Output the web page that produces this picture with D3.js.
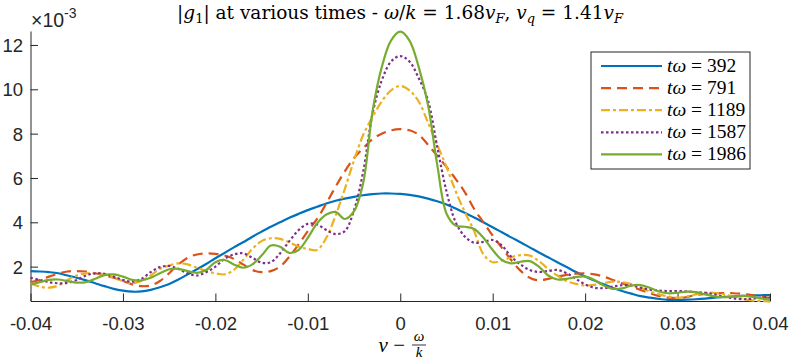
<!DOCTYPE html>
<html>
<head>
<meta charset="utf-8">
<script src="https://cdn.jsdelivr.net/npm/d3@7"></script>
<style>
    body { margin: 0; background: #fff; }
    svg { display: block; }
    .axis path, .axis line { stroke: #262626; stroke-width: 1px; }
    .axis text { font-family: "Liberation Sans", Arial, sans-serif; font-size: 18.5px; fill: #262626; }
    .tex { font-family: "Liberation Serif", "Times New Roman", serif; fill: #000; }
    .title { font-family: "DejaVu Serif", serif; fill: #000; }
</style>
</head>
<body>
<div id="chart"></div>
<script>
// v - omega/k, in units of 1e-3
const vGrid = [
    -40, -39, -38, -37, -36, -35, -34, -33, -32, -31,
    -30, -29, -28, -27, -26, -25, -24, -23, -22, -21,
    -20, -19, -18, -17, -16, -15, -14, -13, -12, -11,
    -10, -9, -8, -7, -6, -5, -4, -3, -2, -1,
    0,
    1, 2, 3, 4, 5, 6, 7, 8, 9, 10,
    11, 12, 13, 14, 15, 16, 17, 18, 19, 20,
    21, 22, 23, 24, 25, 26, 27, 28, 29, 30,
    31, 32, 33, 34, 35, 36, 37, 38, 39, 40
];

// |g1| in units of 1e-3
const g392 = [
    1.8, 1.78, 1.75, 1.7, 1.6, 1.5, 1.38, 1.25, 1.12, 1.0,
    0.92, 0.87, 0.88, 0.95, 1.07, 1.22, 1.42, 1.65, 1.88, 2.12,
    2.38, 2.62, 2.87, 3.1, 3.35, 3.58, 3.8, 4.0, 4.2, 4.38,
    4.55, 4.7, 4.85, 4.97, 5.07, 5.15, 5.22, 5.27, 5.3, 5.3,
    5.28,
    5.24, 5.17, 5.07, 4.95, 4.8, 4.62, 4.42, 4.22, 4.0, 3.78,
    3.55, 3.32, 3.1, 2.87, 2.64, 2.42, 2.2, 1.98, 1.76, 1.55,
    1.37, 1.2, 1.04, 0.9, 0.78, 0.67, 0.6, 0.54, 0.5, 0.5,
    0.51, 0.53, 0.56, 0.6, 0.63, 0.66, 0.68, 0.7, 0.71, 0.72
];

const g791 = [
    1.3, 1.4, 1.55, 1.68, 1.78, 1.8, 1.78, 1.7, 1.6, 1.5,
    1.35, 1.2, 1.12, 1.15, 1.35, 1.7, 2.1, 2.4, 2.55, 2.6,
    2.58, 2.5, 2.35, 2.1, 1.85, 1.75, 1.8, 2.0, 2.45, 3.0,
    3.6, 4.15, 4.85, 5.6, 6.3, 6.9, 7.35, 7.75, 8.0, 8.15,
    8.2,
    8.15, 7.95, 7.5, 7.0, 6.5, 5.95, 5.35, 4.6, 4.0, 3.4,
    2.85, 2.3, 1.82, 1.5, 1.38, 1.45, 1.55, 1.63, 1.68, 1.7,
    1.65, 1.55, 1.4, 1.25, 1.1, 0.95, 0.8, 0.67, 0.6, 0.58,
    0.63, 0.72, 0.77, 0.8, 0.81, 0.8, 0.77, 0.72, 0.65, 0.58
];

const g1189 = [
    1.25, 1.1, 1.05, 1.15, 1.4, 1.6, 1.7, 1.7, 1.65, 1.5,
    1.35, 1.25, 1.35, 1.6, 1.9, 2.05, 2.15, 2.1, 1.95, 1.8,
    1.7, 1.65, 1.85, 2.3, 2.8, 3.15, 3.28, 3.25, 3.1, 2.9,
    2.8, 2.75, 3.3, 4.3, 5.5, 6.8, 7.95, 8.75, 9.45, 9.95,
    10.15,
    9.95, 9.45, 8.5, 7.5, 6.5, 5.4, 4.45, 3.6, 2.55, 2.2,
    2.28, 2.42, 2.52, 2.5, 2.25, 1.9, 1.6, 1.35, 1.22, 1.15,
    1.18, 1.25, 1.32, 1.3, 1.22, 1.05, 0.88, 0.75, 0.65, 0.6,
    0.65, 0.75, 0.82, 0.82, 0.75, 0.65, 0.55, 0.48, 0.45, 0.42
];

const g1587 = [
    1.5, 1.4, 1.3, 1.25, 1.27, 1.4, 1.6, 1.7, 1.68, 1.55,
    1.4, 1.32, 1.45, 1.75, 1.98, 2.03, 1.9, 1.7, 1.6, 1.75,
    2.0, 2.35, 2.55, 2.6, 2.4, 2.18, 2.2, 2.6, 3.15, 3.65,
    3.93, 3.9, 3.65, 3.47, 3.6, 4.55, 6.3, 8.9, 10.4, 11.25,
    11.5,
    11.25, 10.5, 9.5, 7.4, 5.4, 4.0, 3.35, 3.08, 3.12, 3.2,
    2.95, 2.45, 2.1, 1.85, 1.76, 1.8, 1.85, 1.7, 1.45, 1.2,
    1.05, 1.03, 1.1, 1.16, 1.15, 1.05, 0.96, 0.92, 0.9, 0.9,
    0.88, 0.85, 0.82, 0.75, 0.65, 0.57, 0.53, 0.55, 0.6, 0.62
];

const g1986 = [
    1.18, 1.3, 1.4, 1.42, 1.35, 1.28, 1.3, 1.45, 1.62, 1.65,
    1.55, 1.4, 1.38, 1.5, 1.7, 1.88, 1.9, 1.8, 1.72, 1.85,
    2.2, 2.3, 2.1, 1.95, 2.1, 2.5, 2.95, 2.9, 2.62, 2.75,
    3.3, 3.95, 4.35, 4.47, 4.15, 4.5, 5.8, 9.0, 11.0, 12.2,
    12.6,
    12.2, 11.0, 9.3, 6.6, 4.4, 3.85, 3.8, 3.7, 3.3, 2.75,
    2.3, 2.15, 2.22, 2.25, 2.0, 1.6, 1.42, 1.45, 1.53, 1.55,
    1.4, 1.15, 1.0, 1.02, 1.15, 1.17, 1.05, 0.88, 0.8, 0.82,
    0.87, 0.85, 0.75, 0.66, 0.62, 0.65, 0.68, 0.65, 0.57, 0.5
];

const seriesTimes = ['392', '791', '1189', '1587', '1986'];
const seriesValues = [g392, g791, g1189, g1587, g1986];
const seriesColors = ['#0072BD', '#D95319', '#EDB120', '#7E2F8E', '#77AC30'];
const seriesDashes = [null, '10,6', '9,3,3,3', '2.5,2.5', null];

const xTicks = [-40, -30, -20, -10, 0, 10, 20, 30, 40];
const xTickLabels = ['-0.04', '-0.03', '-0.02', '-0.01', '0', '0.01', '0.02', '0.03', '0.04'];
const yTicks = [2, 4, 6, 8, 10, 12];
const yTickLabels = ['2', '4', '6', '8', '10', '12'];

const WIDTH = 789;
const HEIGHT = 362;
const PLOT = { left: 30.5, right: 770, top: 31, bottom: 301 };

const xScale = d3.scaleLinear().domain([-40, 40]).range([PLOT.left, PLOT.right]);
const yScale = d3.scaleLinear().domain([0.45, 12.63]).range([PLOT.bottom, PLOT.top]);

const svg = d3.select('#chart')
    .append('svg')
    .attr('width', WIDTH)
    .attr('height', HEIGHT)
    .attr('viewBox', `0 0 ${WIDTH} ${HEIGHT}`);

// axes, ticks pointing inward
const xAxis = d3.axisBottom(xScale)
    .tickValues(xTicks)
    .tickFormat((d, i) => xTickLabels[i])
    .tickSizeInner(-7.5)
    .tickSizeOuter(0);

const yAxis = d3.axisLeft(yScale)
    .tickValues(yTicks)
    .tickFormat((d, i) => yTickLabels[i])
    .tickSizeInner(-7.5)
    .tickSizeOuter(0);

const gx = svg.append('g')
    .attr('class', 'axis')
    .attr('transform', `translate(0,${PLOT.bottom})`)
    .call(xAxis);
gx.selectAll('text').attr('y', 29).attr('dy', 0);

const gy = svg.append('g')
    .attr('class', 'axis')
    .attr('transform', `translate(${PLOT.left},0)`)
    .call(yAxis);
gy.selectAll('text').attr('x', -7.5).attr('dy', '0.35em');

// exponent label
const expo = svg.append('text')
    .attr('x', 31)
    .attr('y', 27)
    .style('font-family', '"Liberation Sans", Arial, sans-serif')
    .style('font-size', '19.5px')
    .style('fill', '#262626');
expo.append('tspan').text('\u00d710');
expo.append('tspan').attr('dy', -9).style('font-size', '14px').text('-3');

// curves
const line = d3.line()
    .x((d, i) => xScale(vGrid[i]))
    .y(d => yScale(d))
    .curve(d3.curveCatmullRom.alpha(0.5));

seriesValues.forEach((vals, k) => {
    svg.append('path')
        .datum(vals)
        .attr('d', line)
        .attr('fill', 'none')
        .attr('stroke', seriesColors[k])
        .attr('stroke-width', 2.2)
        .attr('stroke-dasharray', seriesDashes[k]);
});

// title
const title = svg.append('text')
    .attr('class', 'title')
    .attr('x', 400)
    .attr('y', 19)
    .attr('text-anchor', 'middle')
    .style('font-size', '18.5px');
title.append('tspan').text('|');
title.append('tspan').style('font-style', 'italic').text('g');
title.append('tspan').attr('dy', 4).style('font-size', '13px').text('1');
title.append('tspan').attr('dy', -4).text('| at various times - ');
title.append('tspan').style('font-style', 'italic').text('\u03c9');
title.append('tspan').text('/');
title.append('tspan').style('font-style', 'italic').text('k');
title.append('tspan').text(' = 1.68');
title.append('tspan').style('font-style', 'italic').text('v');
title.append('tspan').attr('dy', 4).style('font-size', '13px').style('font-style', 'italic').text('F');
title.append('tspan').attr('dy', -4).text(', ');
title.append('tspan').style('font-style', 'italic').text('v');
title.append('tspan').attr('dy', 4).style('font-size', '13px').style('font-style', 'italic').text('q');
title.append('tspan').attr('dy', -4).text(' = 1.41');
title.append('tspan').style('font-style', 'italic').text('v');
title.append('tspan').attr('dy', 4).style('font-size', '13px').style('font-style', 'italic').text('F');

// x label: v - omega/k
const xLabel = svg.append('g').attr('class', 'tex');
xLabel.append('text')
    .attr('x', 405)
    .attr('y', 352)
    .attr('text-anchor', 'end')
    .style('font-size', '21px')
    .html('<tspan font-style="italic">v</tspan> \u2212');
xLabel.append('text')
    .attr('x', 419)
    .attr('y', 341)
    .attr('text-anchor', 'middle')
    .style('font-size', '15px')
    .style('font-style', 'italic')
    .text('\u03c9');
xLabel.append('line')
    .attr('x1', 412).attr('x2', 426)
    .attr('y1', 345).attr('y2', 345)
    .attr('stroke', '#000').attr('stroke-width', 0.8);
xLabel.append('text')
    .attr('x', 419)
    .attr('y', 357)
    .attr('text-anchor', 'middle')
    .style('font-size', '15px')
    .style('font-style', 'italic')
    .text('k');

// legend
const legend = svg.append('g').attr('transform', 'translate(591,52)');
legend.append('rect')
    .attr('width', 159)
    .attr('height', 117)
    .attr('fill', '#fff')
    .attr('stroke', '#262626')
    .attr('stroke-width', 1);

seriesTimes.forEach((t, k) => {
    const row = legend.append('g').attr('transform', `translate(0,${14 + k * 22.1})`);
    row.append('line')
        .attr('x1', 10).attr('x2', 71)
        .attr('y1', 0).attr('y2', 0)
        .attr('stroke', seriesColors[k])
        .attr('stroke-width', 2.2)
        .attr('stroke-dasharray', seriesDashes[k]);
    const lt = row.append('text')
        .attr('class', 'tex')
        .attr('x', 76)
        .attr('y', 6)
        .style('font-size', '19.5px');
    lt.append('tspan').style('font-style', 'italic').text('t\u03c9');
    lt.append('tspan').text(' = ' + t);
});
</script>
</body>
</html>
